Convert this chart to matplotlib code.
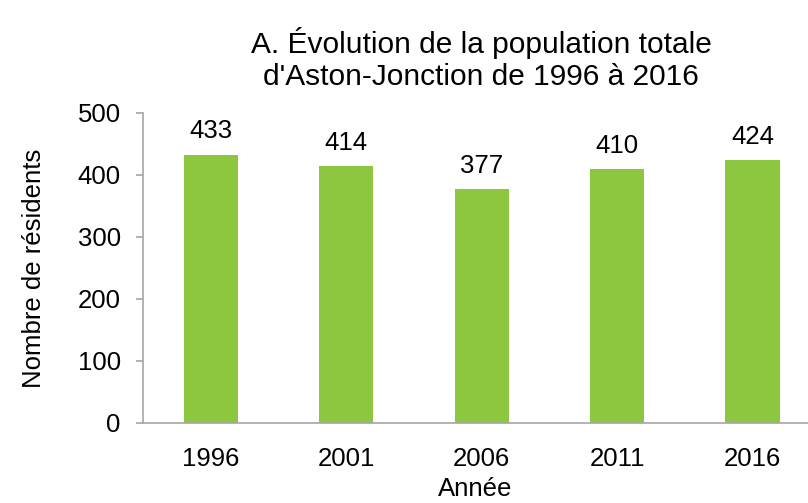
import matplotlib
matplotlib.use("Agg")
import matplotlib.pyplot as plt

years = ["1996", "2001", "2006", "2011", "2016"]
residents = [433, 414, 377, 410, 424]
yticks = [0, 100, 200, 300, 400, 500]

plt.rcParams['font.family'] = ['Liberation Sans', 'DejaVu Sans']

fig = plt.figure(figsize=(8.08, 5.03), dpi=100)
W, H = 808, 503
ax = fig.add_axes([143 / W, (H - 423) / H, (808 - 143) / W, (423 - 113) / H])

x = list(range(len(years)))
ax.bar(x, residents, width=0.4, color="#8DC63F", zorder=2)
ax.set_xlim(-0.5, 4.41)
ax.set_ylim(0, 500)
ax.set_yticks(yticks)
ax.set_xticks(x)
ax.set_xticklabels(years)

for xi, v in zip(x, residents):
    ax.annotate(str(v), (xi, v), xytext=(0, 8), textcoords="offset points",
                ha="center", va="bottom", fontsize=18.5, color="#000000")

for s in ["top", "right"]:
    ax.spines[s].set_visible(False)
for s in ["left", "bottom"]:
    ax.spines[s].set_color("#A6A6A6")
    ax.spines[s].set_linewidth(1.2)

ax.tick_params(axis="y", length=5, width=1.2, color="#A6A6A6", labelsize=18.5, pad=11)
ax.tick_params(axis="x", length=0, labelsize=18.5, pad=17)

ax.set_xlabel("Année", fontsize=18.5, labelpad=4.5)
ax.set_ylabel("Nombre de résidents", fontsize=18.5, labelpad=23)
fig.text(481 / W, 1 - 59 / H, "A. Évolution de la population totale\nd'Aston-Jonction de 1996 à 2016",
         ha="center", va="center", fontsize=21.5, linespacing=1.15)

fig.savefig("out.png", dpi=100)
